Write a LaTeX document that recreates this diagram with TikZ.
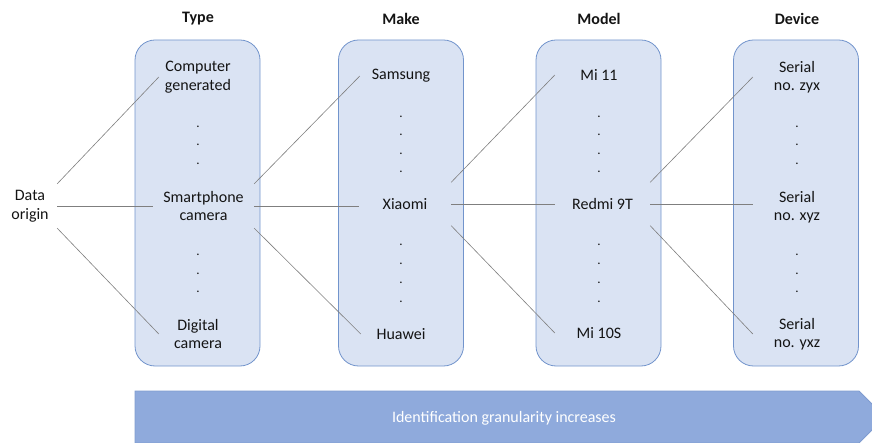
\documentclass[tikz,border=0pt]{standalone}
\usepackage{fontspec}
\setmainfont{Carlito}
\definecolor{boxfill}{HTML}{DAE3F3}
\definecolor{boxline}{HTML}{7294CC}
\definecolor{arrfill}{HTML}{8FAADC}
\definecolor{arrline}{HTML}{7F9CD0}
\definecolor{linkgray}{HTML}{7F7F7F}
\definecolor{txt}{HTML}{141414}
\begin{document}
\begin{tikzpicture}[x=1pt,y=-1pt,
  col/.style={draw=boxline, fill=boxfill, rounded corners=20pt, minimum width=125pt, minimum height=326pt, inner sep=0pt, line width=0.8pt},
  hdr/.style={font=\fontsize{16}{18.5}\selectfont\bfseries, text=txt, yshift=-2pt},
  item/.style={font=\fontsize{16}{18.5}\selectfont, text=txt, align=center, inner sep=0pt, yshift=-2pt},
  dotn/.style={font=\fontsize{13}{15}\selectfont, text=txt, inner sep=0pt, anchor=base},
  link/.style={draw=linkgray, line width=0.6pt}]
\useasboundingbox (0,0) rectangle (872,443);
\clip (0,0) rectangle (872,443);
% columns
\node[col] (cType) at (197.5,203) {};
\node[col] (cMake) at (401,203) {};
\node[col] (cModel) at (598.5,203) {};
\node[col] (cDevice) at (796,203) {};
% headers
\node[hdr] (hType) at (198,17) {Type};
\node[hdr] (hMake) at (401,17) {Make};
\node[hdr] (hModel) at (599,17) {Model};
\node[hdr] (hDevice) at (797,17) {Device};
% items
\node[item, minimum width=54pt, minimum height=44pt] (origin) at (30,204) {Data\\origin};
\node[item, minimum width=78pt] (cg) at (198,75) {Computer\\generated};
\node[item, minimum width=101pt, minimum height=44pt] (sc) at (203.5,204) {Smartphone\\camera};
\node[item, minimum width=78pt] (dc) at (198,332) {Digital\\camera};
\node[item, minimum width=82pt] (sam) at (401,74) {Samsung};
\node[item, minimum width=92pt, minimum height=43pt] (xia) at (405,202) {Xiaomi};
\node[item, minimum width=80pt] (hua) at (401,332) {Huawei};
\node[item, minimum width=88pt] (mi11) at (599,73) {Mi 11};
\node[item, minimum width=95pt, minimum height=43pt] (redmi) at (602.5,202) {Redmi 9T};
\node[item, minimum width=88pt] (mi10) at (599,331) {Mi 10S};
\node[item, minimum width=88pt] (s1) at (797,75) {Serial\\no. zyx};
\node[item, minimum width=88pt] (s2) at (797,205) {Serial\\no. xyz};
\node[item, minimum width=88pt] (s3) at (797,332) {Serial\\no. yxz};
% dots
\foreach \x/\c in {198/a,797/d}{
  \foreach \y [count=\k] in {125,143,162,253,272,290}{
    \node[dotn] (dot\c\k) at (\x,\y+3) {.};
  }
}
\foreach \x/\c in {401/b,599/c}{
  \foreach \y [count=\k] in {115,133,152,170,243,262,281,299}{
    \node[dotn] (dot\c\k) at (\x,\y+3) {.};
  }
}
% links
\draw[link] (origin.north east) -- (cg.west);
\draw[link] (origin.east) -- (sc.west);
\draw[link] (origin.south east) -- (dc.west);
\draw[link] (sc.north east) -- (sam.west);
\draw[link] (sc.east) -- (sc.east -| xia.west);
\draw[link] (sc.south east) -- (hua.west);
\draw[link] (xia.north east) -- (mi11.west);
\draw[link] (xia.east) -- (xia.east -| redmi.west);
\draw[link] (xia.south east) -- (mi10.west);
\draw[link] (redmi.north east) -- (s1.west);
\draw[link] (redmi.east) -- (redmi.east -| s2.west);
\draw[link] (redmi.south east) -- (s3.west);
% arrow
\draw[fill=arrfill, draw=arrline, line width=0.8pt] (135,391) -- (859,391) -- (885,417) -- (859,443) -- (135,443) -- cycle;
\node[font=\fontsize{16}{18.5}\selectfont, text=white] (arrtxt) at (504,418) {Identification granularity increases};
\end{tikzpicture}
\end{document}
